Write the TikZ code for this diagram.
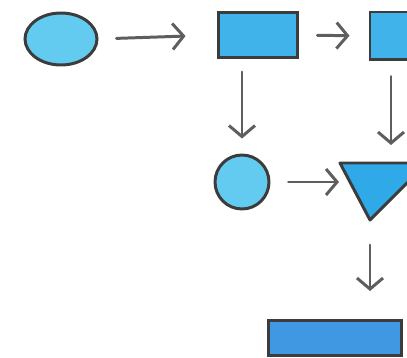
\documentclass[tikz,border=0pt]{standalone}
\usepackage{tikz}
\usetikzlibrary{arrows.meta,shapes.geometric}

\definecolor{inkline}{HTML}{3C3C3C}
\definecolor{inkarrow}{HTML}{5E5E5E}
\definecolor{skyA}{HTML}{62CBEF}
\definecolor{skyB}{HTML}{40B3EA}
\definecolor{skyC}{HTML}{2FA9E8}
\definecolor{skyD}{HTML}{4097E2}

\tikzset{
  blob/.style = {draw=inkline, line width=1.7pt, inner sep=0pt},
  box/.style  = {blob, rectangle},
  arr/.style  = {draw=inkarrow, line width=1.7pt, line cap=round,
                 -{Straight Barb[length=2.2mm, width=5.2mm]}}
}

\begin{document}
\begin{tikzpicture}[x=0.02cm, y=-0.02cm]
  \useasboundingbox (0,0) rectangle (407,358);
  \clip (0,0) rectangle (407,358);

  % top row
  \node[blob, ellipse, fill=skyA, minimum width=1.44cm, minimum height=1.04cm] (start) at (61,39) {};
  \node[box, fill=skyB, minimum width=1.6cm, minimum height=0.9cm] (stepa) at (258,35) {};
  \node[box, fill=skyB, minimum width=0.84cm, minimum height=0.96cm] (stepb) at (391,36) {};

  % middle row
  \node[blob, circle, fill=skyA, minimum size=1.08cm] (side) at (242,182) {};
  \coordinate (tl) at (340,163);
  \coordinate (tb) at (370,220);
  \coordinate (tr) at (427,163);
  \draw[blob, fill=skyC, line join=round] (tl) -- (tb) -- (tr) -- cycle;

  % bottom
  \node[box, fill=skyD, minimum width=2.68cm, minimum height=0.7cm] (finish) at (335,338) {};

  % arrows
  \draw[arr, shorten <=0.36cm, shorten >=0.62cm] (start.east) -- (stepa.west);
  \draw[arr, shorten <=0.36cm, shorten >=0.38cm] (stepa.east) -- (stepb.west);
  \draw[arr, shorten <=0.26cm, shorten >=0.3cm] (side |- stepa.south) -- (side.north);
  \draw[arr, shorten <=0.3cm, shorten >=0.36cm] (stepb.south) -- (stepb |- tl);
  \draw[arr, shorten <=0.36cm, shorten >=0.02cm] (side.east) -- (tl |- side);
  \draw[arr, shorten <=0.5cm, shorten >=0.56cm] (tb) -- (tb |- finish.north);
\end{tikzpicture}
\end{document}
